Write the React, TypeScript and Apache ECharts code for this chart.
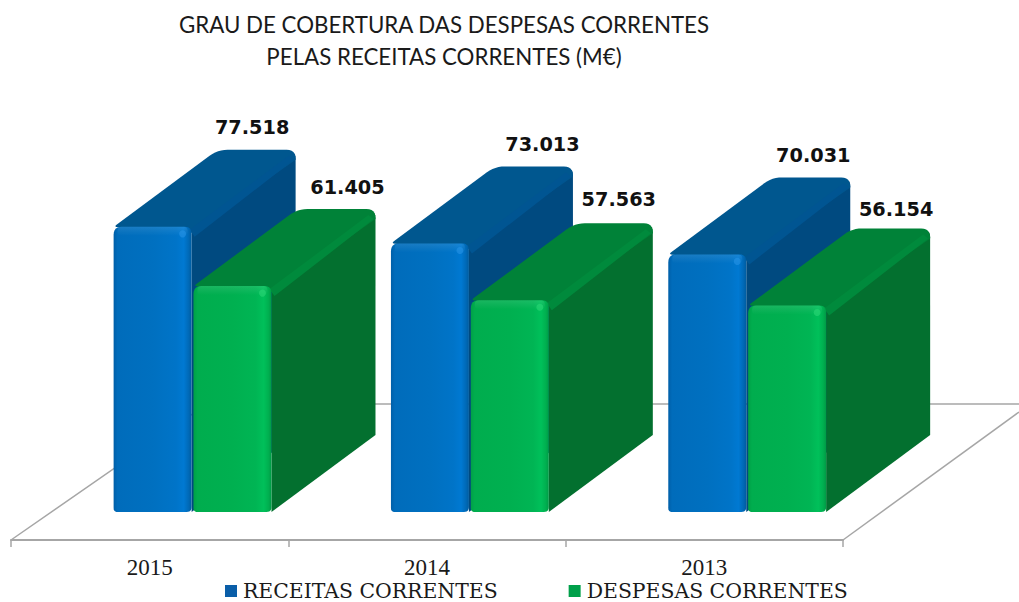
import React, { useEffect, useRef } from "react";
import * as echarts from "echarts";

const categories = ["2015", "2014", "2013"];
const receitas = [77518, 73013, 70031];
const despesas = [61405, 57563, 56154];
const labelShiftBlue = [-9.5, 3.5, -3];
const labelShiftGreen = [6, 0, 0];
const labelLiftBlue = [0, 0, 0];
const labelLiftGreen = [0, -2, 3];

const DX = 104;
const DY = 77;
const BAR_W = 78;

type Pt = number[];

function roundPoly(pts: Pt[], radii: number[]): Pt[] {
  const out: Pt[] = [];
  const n = pts.length;
  for (let i = 0; i < n; i++) {
    const p = pts[i];
    const a = pts[(i + n - 1) % n];
    const b = pts[(i + 1) % n];
    const r = radii[i];
    if (!r) {
      out.push(p);
      continue;
    }
    const la = Math.hypot(a[0] - p[0], a[1] - p[1]);
    const lb = Math.hypot(b[0] - p[0], b[1] - p[1]);
    const s = [p[0] + ((a[0] - p[0]) * r) / la, p[1] + ((a[1] - p[1]) * r) / la];
    const e = [p[0] + ((b[0] - p[0]) * r) / lb, p[1] + ((b[1] - p[1]) * r) / lb];
    for (let k = 0; k <= 6; k++) {
      const t = k / 6;
      const u = 1 - t;
      out.push([
        u * u * s[0] + 2 * u * t * p[0] + t * t * e[0],
        u * u * s[1] + 2 * u * t * p[1] + t * t * e[1],
      ]);
    }
  }
  return out;
}

function hGrad(stops: [number, string][]) {
  return new echarts.graphic.LinearGradient(
    0, 0, 1, 0,
    stops.map(([offset, color]) => ({ offset, color }))
  );
}
function vGrad(stops: [number, string][]) {
  return new echarts.graphic.LinearGradient(
    0, 0, 0, 1,
    stops.map(([offset, color]) => ({ offset, color }))
  );
}

interface Palette {
  front: [number, string][];
  top: string;
  side: string;
  bevel: string;
  glow: string;
  offset: number;
  shift: number[];
  lift: number[];
}

const bluePal: Palette = {
  front: [
    [0, "#005fa8"], [0.05, "#006cbb"], [0.5, "#0070c0"], [0.8, "#0074c8"],
    [0.9, "#0079d2"], [0.96, "#006ab8"], [1, "#005c9f"],
  ],
  top: "#00578f",
  side: "#004a80",
  bevel: "#005592",
  glow: "#2a96e8",
  offset: -0.13,
  shift: labelShiftBlue,
  lift: labelLiftBlue,
};
const greenPal: Palette = {
  front: [
    [0, "#00a047"], [0.05, "#00ad4e"], [0.5, "#00b050"], [0.8, "#00b554"],
    [0.9, "#00c05a"], [0.96, "#00b050"], [1, "#009a45"],
  ],
  top: "#008238",
  side: "#03702f",
  bevel: "#008a3c",
  glow: "#30d878",
  offset: 0.158,
  shift: labelShiftGreen,
  lift: labelLiftGreen,
};

function makeRender(pal: Palette) {
  return (params: any, api: any) => {
    const idx = api.value(0);
    const val = api.value(1);
    const [cx, top] = api.coord([idx, val]);
    const [, base] = api.coord([idx, 0]);
    const band = api.size([1, 0])[0];
    const l = cx + band * pal.offset;
    const r = l + BAR_W;

    const topFace = roundPoly(
      [[l, top], [l + DX, top - DY], [r + DX, top - DY], [r + DX, top - DY + 10], [r, top + 6]],
      [4, 10, 9, 0, 0]
    );
    const sideFace = roundPoly(
      [[r, top], [r + DX, top - DY], [r + DX, base - DY], [r, base]],
      [0, 9, 0, 0]
    );
    const frontFace = roundPoly(
      [[l, top], [r, top], [r, base], [l, base]],
      [8, 7, 5, 4]
    );
    const bevel: Pt[] = [
      [r - 2, top + 3],
      [r + DX - 7, top - DY + 6],
      [r + DX - 2, top - DY + 10],
      [r + 3, top + 10],
    ];

    const text = val.toString().replace(/(\d)(\d{3})$/, "$1.$2");
    return {
      type: "group",
      children: [
        { type: "polygon", shape: { points: sideFace }, style: { fill: pal.side } },
        { type: "polygon", shape: { points: topFace }, style: { fill: pal.top } },
        { type: "polygon", shape: { points: bevel }, style: { fill: pal.bevel } },
        { type: "polygon", shape: { points: frontFace }, style: { fill: hGrad(pal.front) } },
        {
          type: "rect",
          shape: { x: l + 4, y: top, width: BAR_W - 8, height: 9, r: 4 },
          style: { fill: vGrad([[0, "rgba(255,255,255,0.10)"], [1, "rgba(255,255,255,0)"]]) },
        },
        {
          type: "circle",
          shape: { cx: r - 9, cy: top + 7, r: 3.5 },
          style: { fill: pal.glow, opacity: 0.55 },
        },
        {
          type: "text",
          style: {
            text,
            x: l + BAR_W / 2 + DX + pal.shift[params.dataIndex] + 5,
            y: top - DY - 22 + pal.lift[params.dataIndex],
            align: "center",
            verticalAlign: "middle",
            fill: "#111111",
            font: 'bold 19.3px "DejaVu Sans"',
          },
        },
      ],
    };
  };
}

const greyLine = "#a6a6a6";

export default function App() {
  const ref = useRef<HTMLDivElement>(null);
  useEffect(() => {
    const chart = echarts.init(ref.current!, undefined, { renderer: "svg" });
    chart.setOption({
      animation: false,
      backgroundColor: "#ffffff",
      title: {
        text: "GRAU DE COBERTURA DAS DESPESAS CORRENTES\nPELAS RECEITAS CORRENTES (M€)",
        left: 444,
        top: 8,
        padding: 0,
        textAlign: "center",
        textStyle: {
          fontFamily: "Lato",
          fontWeight: "normal",
          fontSize: 22.3,
          lineHeight: 32,
          color: "#1a1a1a",
        },
      },
      legend: {
        left: 225,
        top: 581,
        itemWidth: 12,
        itemHeight: 12,
        itemGap: 71,
        itemStyle: { borderWidth: 0 },
        icon: "rect",
        textStyle: {
          fontFamily: "DejaVu Serif",
          fontSize: 20.4,
          color: "#1a1a1a",
          padding: [0, 0, 0, 1],
        },
        padding: 0,
      },
      grid: { left: 11, width: 832, top: 100, height: 412 },
      xAxis: {
        type: "category",
        data: categories,
        offset: 28,
        axisLine: { onZero: false, lineStyle: { color: greyLine, width: 2 } },
        axisTick: { show: true, length: 7, lineStyle: { color: greyLine, width: 1.5 } },
        axisLabel: {
          margin: 16,
          fontFamily: "Liberation Serif",
          fontSize: 23,
          color: "#1a1a1a",
        },
      },
      yAxis: { type: "value", min: 0, max: 112000, show: false },
      graphic: [
        {
          type: "polyline",
          silent: true,
          shape: {
            points: [[11, 540], [207, 404], [1019, 404]],
          },
          style: { stroke: greyLine, lineWidth: 1.5, fill: "none" },
        },
        {
          type: "line",
          silent: true,
          shape: { x1: 843, y1: 540, x2: 1019, y2: 412 },
          style: { stroke: greyLine, lineWidth: 1.5 },
        },
      ],
      series: [
        {
          name: "RECEITAS CORRENTES",
          type: "custom",
          renderItem: makeRender(bluePal),
          encode: { x: 0, y: 1 },
          itemStyle: { color: "#0a5ea8" },
          data: receitas.map((v, i) => [i, v]),
        },
        {
          name: "DESPESAS CORRENTES",
          type: "custom",
          renderItem: makeRender(greenPal),
          encode: { x: 0, y: 1 },
          itemStyle: { color: "#00a04a" },
          data: despesas.map((v, i) => [i, v]),
        },
      ],
    });
    return () => chart.dispose();
  }, []);
  return (
    <div
      ref={ref}
      style={{ position: "fixed", left: 0, top: 0, width: 1019, height: 602 }}
    />
  );
}
